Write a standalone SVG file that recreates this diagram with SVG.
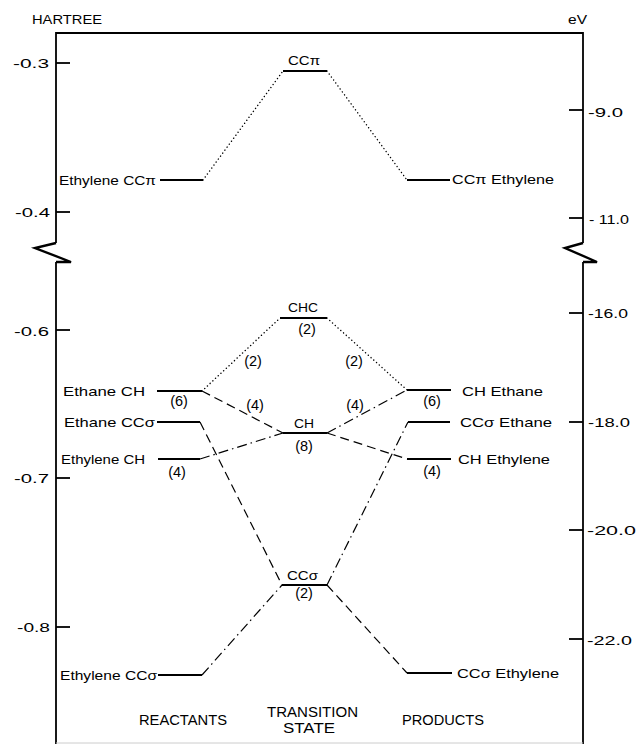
<svg xmlns="http://www.w3.org/2000/svg" width="638" height="744" viewBox="0 0 638 744">
<style>
text{font-family:"Liberation Sans",Arial,sans-serif;fill:#000;}
.ax{font-size:13px;}
.lb{font-size:13.5px;}
.nm{font-size:14.5px;}
.cap{font-size:14px;}
.axis{stroke:#000;stroke-width:1.8;fill:none;}
.zig{stroke:#000;stroke-width:2.4;fill:none;stroke-linejoin:miter;}
.lvl{stroke:#000;stroke-width:2.2;}
.dot{stroke:#000;stroke-width:1.4;stroke-dasharray:0.1 3.6;stroke-linecap:round;fill:none;}
.dash{stroke:#000;stroke-width:1.2;stroke-dasharray:9 5;fill:none;}
.dd{stroke:#000;stroke-width:1.2;stroke-dasharray:10 4 1.5 4;fill:none;}
</style>
<rect width="638" height="744" fill="#fff"/>
<g id="axes">
<path class="axis" d="M56 243 V33 H583 V243"/>
<path class="zig" d="M56 243 L35 248 L71 262 L56 262"/>
<path class="axis" d="M56 262 V744"/>
<path class="zig" d="M583 243 L565 248 L597 262 L583 262"/>
<path class="axis" d="M583 262 V744"/>
<line x1="56" y1="743" x2="583" y2="743" stroke="#ccc" stroke-width="1"/>
<g class="axis">
<line x1="56" y1="63" x2="70" y2="63"/>
<line x1="56" y1="212" x2="70" y2="212"/>
<line x1="56" y1="330" x2="70" y2="330"/>
<line x1="56" y1="478" x2="70" y2="478"/>
<line x1="56" y1="627" x2="70" y2="627"/>
<line x1="569" y1="110" x2="583" y2="110"/>
<line x1="569" y1="218" x2="583" y2="218"/>
<line x1="569" y1="313" x2="583" y2="313"/>
<line x1="569" y1="422" x2="583" y2="422"/>
<line x1="569" y1="530" x2="583" y2="530"/>
<line x1="569" y1="639" x2="583" y2="639"/>
</g>
<text class="ax" x="32" y="24" textLength="70" lengthAdjust="spacingAndGlyphs">HARTREE</text>
<text class="ax" x="568" y="24" textLength="19" lengthAdjust="spacingAndGlyphs">eV</text>
<text class="ax" x="13" y="68" textLength="36" lengthAdjust="spacingAndGlyphs">-0.3</text>
<text class="ax" x="15" y="217" textLength="35" lengthAdjust="spacingAndGlyphs">-0.4</text>
<text class="ax" x="14" y="336" textLength="35" lengthAdjust="spacingAndGlyphs">-0.6</text>
<text class="ax" x="14" y="483" textLength="35" lengthAdjust="spacingAndGlyphs">-0.7</text>
<text class="ax" x="17" y="632" textLength="33" lengthAdjust="spacingAndGlyphs">-0.8</text>
<text class="ax" x="588" y="117" textLength="35" lengthAdjust="spacingAndGlyphs">-9.0</text>
<text class="ax" x="589" y="224" textLength="40" lengthAdjust="spacingAndGlyphs">- 11.0</text>
<text class="ax" x="588" y="318" textLength="40" lengthAdjust="spacingAndGlyphs">-16.0</text>
<text class="ax" x="588" y="427" textLength="42" lengthAdjust="spacingAndGlyphs">-18.0</text>
<text class="ax" x="587" y="535" textLength="49" lengthAdjust="spacingAndGlyphs">-20.0</text>
<text class="ax" x="587" y="645" textLength="45" lengthAdjust="spacingAndGlyphs">-22.0</text>
</g>
<g id="connectors">
<line class="dot" x1="203" y1="180" x2="283" y2="71"/>
<line class="dot" x1="327" y1="71" x2="407" y2="180"/>
<line class="dot" x1="202" y1="391" x2="280" y2="318"/>
<line class="dot" x1="327" y1="318" x2="407" y2="390"/>
<line class="dash" x1="202" y1="391" x2="283" y2="433"/>
<line class="dd" x1="200" y1="459" x2="283" y2="433"/>
<line class="dash" x1="200" y1="422" x2="282" y2="585"/>
<line class="dd" x1="202" y1="675" x2="282" y2="585"/>
<line class="dd" x1="327" y1="433" x2="407" y2="390"/>
<line class="dash" x1="327" y1="433" x2="407" y2="459"/>
<line class="dd" x1="327" y1="585" x2="408" y2="422"/>
<line class="dash" x1="327" y1="585" x2="407" y2="673"/>
</g>
<g id="r-ethylene-ccpi">
<line class="lvl" x1="160" y1="180" x2="203" y2="180"/>
<text class="lb" x="59" y="185" textLength="97" lengthAdjust="spacingAndGlyphs">Ethylene CCπ</text>
</g>
<g id="ts-ccpi">
<line class="lvl" x1="283" y1="71" x2="327" y2="71"/>
<text class="lb" x="288" y="65" textLength="32" lengthAdjust="spacingAndGlyphs">CCπ</text>
</g>
<g id="p-ethylene-ccpi">
<line class="lvl" x1="407" y1="180" x2="450" y2="180"/>
<text class="lb" x="452" y="184" textLength="102" lengthAdjust="spacingAndGlyphs">CCπ Ethylene</text>
</g>
<g id="r-ethane-ch">
<line class="lvl" x1="157" y1="391" x2="202" y2="391"/>
<text class="lb" x="63" y="396" textLength="82" lengthAdjust="spacingAndGlyphs">Ethane CH</text>
<text class="nm" x="179" y="406" text-anchor="middle">(6)</text>
</g>
<g id="r-ethane-ccsigma">
<line class="lvl" x1="157" y1="422" x2="200" y2="422"/>
<text class="lb" x="64" y="427" textLength="91" lengthAdjust="spacingAndGlyphs">Ethane CCσ</text>
</g>
<g id="r-ethylene-ch">
<line class="lvl" x1="158" y1="459" x2="200" y2="459"/>
<text class="lb" x="61" y="464" textLength="84" lengthAdjust="spacingAndGlyphs">Ethylene CH</text>
<text class="nm" x="177" y="477" text-anchor="middle">(4)</text>
</g>
<g id="r-ethylene-ccsigma">
<line class="lvl" x1="158" y1="675" x2="202" y2="675"/>
<text class="lb" x="60" y="680" textLength="97" lengthAdjust="spacingAndGlyphs">Ethylene CCσ</text>
</g>
<g id="ts-chc">
<line class="lvl" x1="280" y1="318" x2="327" y2="318"/>
<text class="lb" x="288" y="312" textLength="30" lengthAdjust="spacingAndGlyphs">CHC</text>
<text class="nm" x="307" y="334" text-anchor="middle">(2)</text>
</g>
<g id="ts-ch">
<line class="lvl" x1="283" y1="433" x2="327" y2="433"/>
<text class="lb" x="294" y="428" textLength="20" lengthAdjust="spacingAndGlyphs">CH</text>
<text class="nm" x="304" y="451" text-anchor="middle">(8)</text>
</g>
<g id="ts-ccsigma">
<line class="lvl" x1="282" y1="585" x2="327" y2="585"/>
<text class="lb" x="287" y="580" textLength="31" lengthAdjust="spacingAndGlyphs">CCσ</text>
<text class="nm" x="304" y="598" text-anchor="middle">(2)</text>
</g>
<g id="p-ethane-ch">
<line class="lvl" x1="407" y1="390" x2="451" y2="390"/>
<text class="lb" x="462" y="396" textLength="81" lengthAdjust="spacingAndGlyphs">CH Ethane</text>
<text class="nm" x="432" y="406" text-anchor="middle">(6)</text>
</g>
<g id="p-ethane-ccsigma">
<line class="lvl" x1="408" y1="422" x2="450" y2="422"/>
<text class="lb" x="460" y="427" textLength="92" lengthAdjust="spacingAndGlyphs">CCσ Ethane</text>
</g>
<g id="p-ethylene-ch">
<line class="lvl" x1="407" y1="459" x2="451" y2="459"/>
<text class="lb" x="458" y="464" textLength="92" lengthAdjust="spacingAndGlyphs">CH Ethylene</text>
<text class="nm" x="432" y="476" text-anchor="middle">(4)</text>
</g>
<g id="p-ethylene-ccsigma">
<line class="lvl" x1="407" y1="673" x2="452" y2="673"/>
<text class="lb" x="457" y="678" textLength="102" lengthAdjust="spacingAndGlyphs">CCσ Ethylene</text>
</g>
<g id="counts">
<text class="nm" x="253" y="366" text-anchor="middle">(2)</text>
<text class="nm" x="354" y="366" text-anchor="middle">(2)</text>
<text class="nm" x="255" y="410" text-anchor="middle">(4)</text>
<text class="nm" x="355" y="410" text-anchor="middle">(4)</text>
</g>
<g id="columns">
<text class="cap" x="139" y="725" textLength="88" lengthAdjust="spacingAndGlyphs">REACTANTS</text>
<text class="cap" x="267" y="717" textLength="91" lengthAdjust="spacingAndGlyphs">TRANSITION</text>
<text class="cap" x="283" y="733" textLength="52" lengthAdjust="spacingAndGlyphs">STATE</text>
<text class="cap" x="402" y="725" textLength="82" lengthAdjust="spacingAndGlyphs">PRODUCTS</text>
</g>
</svg>
